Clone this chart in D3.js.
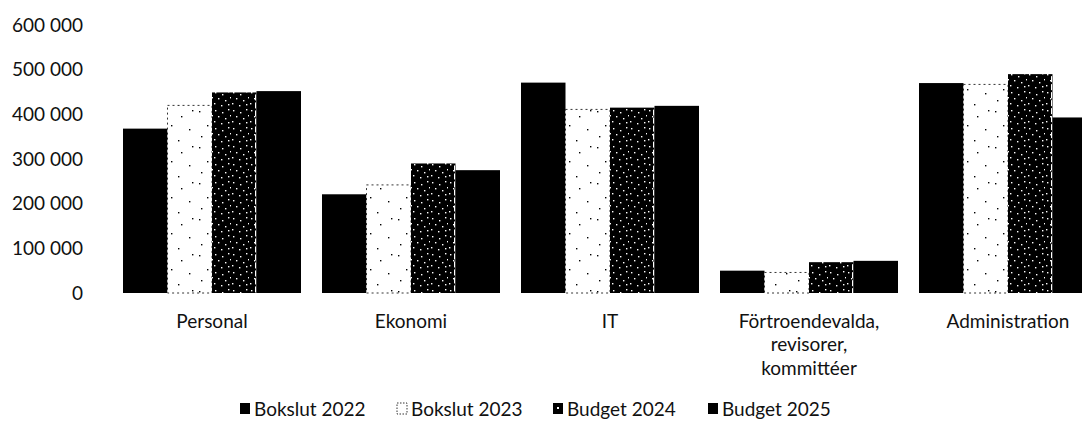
<!DOCTYPE html>
<html>
<head>
<meta charset="utf-8">
<script src="https://cdn.jsdelivr.net/npm/d3@7"></script>
<style>
  html, body { margin: 0; padding: 0; background: #fff; }
  svg { display: block; font-family: Lato, "Liberation Sans", sans-serif; }
</style>
</head>
<body>
<svg id="chart" width="1082" height="438"></svg>
<script>
// ---- data ----
const categories = ["Personal", "Ekonomi", "IT", "Förtroendevalda, revisorer, kommittéer", "Administration"];
const seriesNames = ["Bokslut 2022", "Bokslut 2023", "Budget 2024", "Budget 2025"];
const bokslut2022 = [368000, 221000, 471000, 50000, 470000];
const bokslut2023 = [420000, 242000, 411000, 46000, 467000];
const budget2024  = [449000, 290000, 415000, 69000, 490000];
const budget2025  = [452000, 275000, 419000, 72000, 393000];
const yTicks = [0, 100000, 200000, 300000, 400000, 500000, 600000];

const seriesValues = [bokslut2022, bokslut2023, budget2024, budget2025];

// ---- setup ----
const svg = d3.select("#chart");
const W = 1082, H = 438;

const defs = svg.append("defs");
// sparse black dots on white (Bokslut 2023)
const pSparse = defs.append("pattern").attr("id", "sparse")
  .attr("patternUnits", "userSpaceOnUse").attr("width", 36).attr("height", 36);
pSparse.append("rect").attr("width", 36).attr("height", 36).attr("fill", "#fff");
[[4,3],[22,8],[12,17],[30,21],[6,28],[19,32],[33,2]].forEach(([cx, cy]) =>
  pSparse.append("rect").attr("x", cx).attr("y", cy).attr("width", 1.4).attr("height", 1.4).attr("fill", "#000"));
// dense white dots on black (Budget 2024)
const pDense = defs.append("pattern").attr("id", "dense")
  .attr("patternUnits", "userSpaceOnUse").attr("width", 18).attr("height", 18);
pDense.append("rect").attr("width", 18).attr("height", 18).attr("fill", "#000");
[[2,2],[9,4],[15,1],[5,8],[12,10],[1,13],[8,15],[15,14],[17,7]].forEach(([cx, cy]) =>
  pDense.append("rect").attr("x", cx).attr("y", cy).attr("width", 1.4).attr("height", 1.4).attr("fill", "#fff"));

const fills = ["#000", "url(#sparse)", "url(#dense)", "#000"];

const x = d3.scaleBand().domain(categories).range([112.5, 1107.5])
  .paddingInner(21 / 199).paddingOuter(21 / 199 / 2);
const xSub = d3.scaleBand().domain(seriesNames).range([0, x.bandwidth()]).padding(0);
const y = d3.scaleLinear().domain([0, 600000]).range([293, 25]);

const locale = d3.formatLocale({ decimal: ",", thousands: " ", grouping: [3], currency: ["", " kr"] });
const fmt = locale.format(",d");

// ---- y axis (labels only) ----
const yAxis = d3.axisLeft(y).tickValues(yTicks).tickFormat(fmt).tickSize(0).tickPadding(0);
const gy = svg.append("g").attr("transform", "translate(83,0)").call(yAxis);
gy.select(".domain").remove();
gy.selectAll("text").attr("font-size", 19).attr("fill", "#111").attr("font-family", "Lato, sans-serif");

// ---- bars ----
const groups = svg.append("g").selectAll("g").data(categories).join("g")
  .attr("transform", d => `translate(${x(d)},0)`);

groups.selectAll("rect").data((d, ci) => seriesNames.map((s, si) => ({ s, si, v: seriesValues[si][ci] })))
  .join("rect")
  .attr("x", d => xSub(d.s))
  .attr("y", d => y(d.v))
  .attr("width", xSub.bandwidth())
  .attr("height", d => y(0) - y(d.v))
  .attr("fill", d => fills[d.si])
  .attr("stroke", d => d.si === 1 ? "#000" : "none")
  .attr("stroke-width", d => d.si === 1 ? 0.8 : 0)
  .attr("stroke-dasharray", d => d.si === 1 ? "2,3" : null);

// thin white separating line on the right edge of Budget 2024 bars
groups.selectAll("line.sep").data((d, ci) => [budget2024[ci]]).join("line")
  .attr("class", "sep")
  .attr("x1", xSub("Budget 2024") + xSub.bandwidth() - 1)
  .attr("x2", xSub("Budget 2024") + xSub.bandwidth() - 1)
  .attr("y1", v => y(v) + 2).attr("y2", y(0))
  .attr("stroke", "#fff").attr("stroke-width", 1).attr("stroke-dasharray", "6,2");

// ---- x axis labels ----
const xAxis = d3.axisBottom(x).tickSize(0).tickPadding(0);
const gx = svg.append("g").attr("transform", "translate(0,314)").call(xAxis);
gx.select(".domain").remove();
gx.selectAll(".tick text").each(function(d) {
  const t = d3.select(this);
  t.text(null).attr("font-size", 19).attr("fill", "#111").attr("font-family", "Lato, sans-serif").attr("dy", 0);
  const lines = d.split(/(?<=,) /);
  lines.forEach((ln, i) => t.append("tspan").attr("x", 0).attr("dy", i === 0 ? "0.71em" : "1.24em").text(ln));
});

// ---- legend ----
const legendX = [240, 397, 553, 708];
const lg = svg.append("g").selectAll("g").data(seriesNames).join("g")
  .attr("transform", (d, i) => `translate(${legendX[i]},409)`);
lg.append("rect").attr("x", 0).attr("y", -6).attr("width", 10).attr("height", 11)
  .attr("fill", (d, i) => i === 1 ? "#fff" : "#000")
  .attr("stroke", (d, i) => i === 1 ? "#000" : "none")
  .attr("stroke-width", 0.8)
  .attr("stroke-dasharray", (d, i) => i === 1 ? "1.5,1.5" : null);
lg.filter((d, i) => i === 2).append("rect").attr("x", 4).attr("y", -2).attr("width", 2).attr("height", 2).attr("fill", "#fff");
lg.append("text").attr("x", 14).attr("y", 0).attr("dy", "0.35em")
  .attr("font-size", 19).attr("fill", "#111").attr("font-family", "Lato, sans-serif")
  .text(d => d);
</script>
</body>
</html>
